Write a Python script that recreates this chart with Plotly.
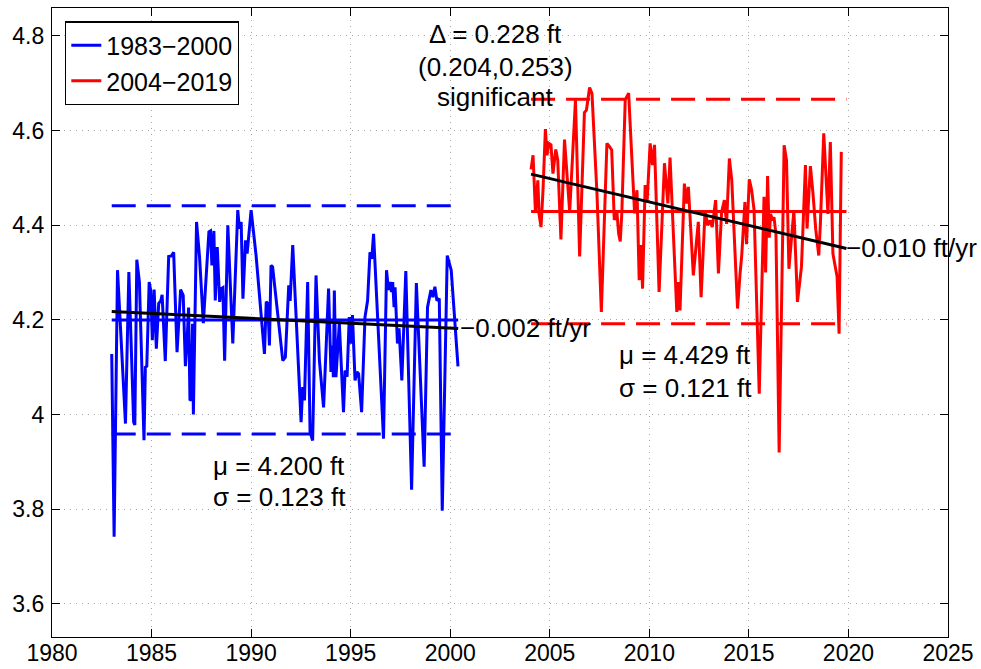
import plotly.graph_objects as go

# ---------------- data ----------------
blue_years = [1983.00, 1983.12, 1983.29, 1983.69, 1983.86, 1984.10, 1984.16, 1984.26, 1984.39, 1984.62,
              1984.69, 1984.76, 1984.88, 1984.96, 1985.04, 1985.13, 1985.24, 1985.36, 1985.46, 1985.53,
              1985.69, 1985.86, 1985.99, 1986.11, 1986.28, 1986.46, 1986.59, 1986.70, 1986.80, 1986.86,
              1986.93, 1986.99, 1987.06, 1987.10, 1987.26, 1987.41, 1987.60, 1987.88, 1987.96, 1988.03,
              1988.13, 1988.20, 1988.30, 1988.42, 1988.50, 1988.58, 1988.67, 1988.83, 1989.08, 1989.33,
              1989.41, 1989.50, 1989.59, 1989.72, 1989.80, 1990.00, 1990.25, 1990.67, 1990.76, 1990.84,
              1990.92, 1991.00, 1991.08, 1991.59, 1991.72, 1991.89, 1991.96, 1992.09, 1992.51, 1992.59,
              1992.68, 1992.84, 1992.96, 1993.09, 1993.26, 1993.43, 1993.64, 1993.89, 1994.01, 1994.08,
              1994.13, 1994.18, 1994.26, 1994.43, 1994.64, 1994.72, 1994.82, 1994.93, 1995.01, 1995.09,
              1995.22, 1995.32, 1995.40, 1995.55, 1995.72, 1995.85, 1995.97, 1996.06, 1996.15, 1996.27,
              1996.65, 1996.80, 1996.90, 1996.98, 1997.05, 1997.11, 1997.18, 1997.23, 1997.35, 1997.43,
              1997.57, 1997.77, 1998.06, 1998.30, 1998.69, 1998.86, 1999.03, 1999.13, 1999.23, 1999.33,
              1999.45, 1999.60, 1999.85, 2000.05, 2000.39]
blue_vals = [4.128, 3.742, 4.305, 3.981, 4.301, 3.984, 3.978, 4.327, 4.280, 3.946,
             4.100, 4.102, 4.280, 4.262, 4.157, 4.264, 4.139, 4.235, 4.240, 4.253,
             4.113, 4.334, 4.335, 4.343, 4.132, 4.264, 4.252, 4.102, 4.171, 4.226,
             4.030, 4.032, 4.192, 4.000, 4.407, 4.333, 4.193, 4.386, 4.388, 4.315,
             4.388, 4.241, 4.354, 4.238, 4.266, 4.268, 4.114, 4.400, 4.150, 4.432,
             4.393, 4.407, 4.245, 4.368, 4.340, 4.432, 4.336, 4.128, 4.238, 4.235,
             4.146, 4.315, 4.312, 4.114, 4.121, 4.273, 4.240, 4.358, 3.984, 4.058,
             4.030, 4.280, 3.963, 3.945, 4.294, 4.114, 4.015, 4.266, 4.090, 4.146,
             4.079, 4.262, 4.079, 4.192, 4.005, 4.093, 4.080, 4.206, 4.150, 4.210,
             4.072, 4.090, 4.086, 4.005, 4.206, 4.241, 4.343, 4.329, 4.382, 4.276,
             3.949, 4.305, 4.263, 4.280, 4.259, 4.280, 4.227, 4.269, 4.150, 4.182,
             4.072, 4.303, 3.841, 4.278, 3.890, 4.227, 4.263, 4.248, 4.270, 4.241,
             4.245, 3.797, 4.336, 4.305, 4.102]

red_years = [2004.06, 2004.16, 2004.28, 2004.40, 2004.46, 2004.56, 2004.66, 2004.78, 2004.86, 2004.95,
             2005.06, 2005.16, 2005.30, 2005.40, 2005.56, 2005.74, 2006.00, 2006.29, 2006.50, 2006.74,
             2006.84, 2007.00, 2007.12, 2007.37, 2007.59, 2007.87, 2008.00, 2008.11, 2008.24, 2008.37,
             2008.46, 2008.54, 2008.62, 2008.79, 2008.96, 2009.26, 2009.38, 2009.49, 2009.57, 2009.66,
             2009.79, 2009.89, 2010.04, 2010.16, 2010.26, 2010.49, 2010.76, 2010.93, 2011.04, 2011.38,
             2011.46, 2011.54, 2011.76, 2011.88, 2011.96, 2012.21, 2012.46, 2012.60, 2012.80, 2012.93,
             2013.05, 2013.16, 2013.33, 2013.47, 2013.63, 2013.77, 2013.88, 2014.02, 2014.14, 2014.43,
             2014.56, 2014.64, 2014.80, 2014.88, 2015.02, 2015.14, 2015.26, 2015.52, 2015.76, 2015.84,
             2015.94, 2016.02, 2016.09, 2016.19, 2016.26, 2016.36, 2016.52, 2016.77, 2016.89, 2017.01,
             2017.26, 2017.44, 2017.64, 2017.84, 2017.92, 2018.09, 2018.22, 2018.36, 2018.51, 2018.59,
             2018.76, 2018.89, 2018.97, 2019.09, 2019.22, 2019.43, 2019.53, 2019.64]
red_vals = [4.518, 4.548, 4.428, 4.495, 4.424, 4.396, 4.474, 4.603, 4.548, 4.573,
            4.570, 4.509, 4.560, 4.538, 4.370, 4.581, 4.428, 4.665, 4.334, 4.638,
            4.643, 4.691, 4.678, 4.467, 4.217, 4.573, 4.566, 4.559, 4.411, 4.428,
            4.382, 4.366, 4.428, 4.665, 4.679, 4.425, 4.474, 4.284, 4.358, 4.266,
            4.485, 4.450, 4.573, 4.527, 4.570, 4.259, 4.531, 4.446, 4.543, 4.217,
            4.280, 4.220, 4.488, 4.446, 4.481, 4.294, 4.407, 4.248, 4.431, 4.400,
            4.410, 4.396, 4.453, 4.298, 4.428, 4.453, 4.403, 4.541, 4.495, 4.224,
            4.300, 4.336, 4.449, 4.360, 4.497, 4.474, 4.432, 4.044, 4.460, 4.300,
            4.504, 4.374, 4.424, 4.410, 4.417, 4.381, 3.920, 4.569, 4.537, 4.308,
            4.432, 4.238, 4.312, 4.527, 4.393, 4.525, 4.467, 4.390, 4.336, 4.403,
            4.594, 4.495, 4.424, 4.576, 4.340, 4.291, 4.171, 4.555]

series_names = ["1983\u22122000", "2004\u22122019"]

blue_span = [1983.0, 2000.4]
red_span = [2004.06, 2019.9]
blue_mean, blue_sigma = 4.200, 0.123
red_mean, red_sigma = 4.429, 0.121
blue_trend = [4.218, 4.182]
red_trend = [4.508, 4.351]
blue_slope_label = "\u22120.002 ft/yr"
red_slope_label = "\u22120.010 ft/yr"
delta_lines = ["\u0394 = 0.228 ft", "(0.204,0.253)", "significant"]

x_ticks = [1980, 1985, 1990, 1995, 2000, 2005, 2010, 2015, 2020, 2025]
y_ticks = [3.6, 3.8, 4.0, 4.2, 4.4, 4.6, 4.8]
y_tick_labels = ["3.6", "3.8", "4", "4.2", "4.4", "4.6", "4.8"]

# ---------------- figure ----------------
BLUE = "#0000ff"
RED = "#ff0000"
FONT = "Liberation Sans, Arial, Helvetica, sans-serif"
DASH = "24px,11px"
LW = 3

fig = go.Figure()

def add_group(years, vals, span, mean, sigma, color, name):
    fig.add_trace(go.Scatter(x=years, y=vals, mode="lines", name=name,
                             line=dict(color=color, width=LW), showlegend=True))
    fig.add_trace(go.Scatter(x=span, y=[mean, mean], mode="lines", showlegend=False,
                             line=dict(color=color, width=LW), hoverinfo="skip"))
    for lim in (mean + 1.96 * sigma, mean - 1.96 * sigma):
        fig.add_trace(go.Scatter(x=span, y=[lim, lim], mode="lines", showlegend=False,
                                 line=dict(color=color, width=LW, dash=DASH), hoverinfo="skip"))

add_group(blue_years, blue_vals, blue_span, blue_mean, blue_sigma, BLUE, series_names[0])
add_group(red_years, red_vals, red_span, red_mean, red_sigma, RED, series_names[1])

for span, trend in ((blue_span, blue_trend), (red_span, red_trend)):
    fig.add_trace(go.Scatter(x=span, y=trend, mode="lines", showlegend=False,
                             line=dict(color="black", width=LW), hoverinfo="skip"))

ann_font = dict(family=FONT, size=26, color="black")
annotations = [
    dict(x=1988.05, y=3.892, text="\u03bc = %.3f ft" % blue_mean, xanchor="left"),
    dict(x=1988.05, y=3.825, text="\u03c3 = %.3f ft" % blue_sigma, xanchor="left"),
    dict(x=2008.45, y=4.125, text="\u03bc = %.3f ft" % red_mean, xanchor="left"),
    dict(x=2008.45, y=4.057, text="\u03c3 = %.3f ft" % red_sigma, xanchor="left"),
    dict(x=blue_span[1] + 0.02, y=blue_trend[1], text=blue_slope_label, xanchor="left"),
    dict(x=red_span[1] - 0.05, y=red_trend[1], text=red_slope_label, xanchor="left"),
    dict(x=2002.25, y=4.805, text=delta_lines[0], xanchor="center"),
    dict(x=2002.25, y=4.735, text=delta_lines[1], xanchor="center"),
    dict(x=2002.25, y=4.670, text=delta_lines[2], xanchor="center"),
]
for a in annotations:
    fig.add_annotation(xref="x", yref="y", showarrow=False, yanchor="middle",
                       font=ann_font, borderpad=0, **a)

axis_common = dict(showline=True, linecolor="black", linewidth=1.3, mirror="allticks",
                   ticks="inside", ticklen=8, tickwidth=1, tickcolor="black",
                   showgrid=True, gridcolor="#a8a8a8", griddash="1px,5px", gridwidth=1,
                   zeroline=False, automargin=False,
                   tickfont=dict(family=FONT, size=23, color="black"))

fig.update_layout(
    width=981, height=669,
    margin=dict(l=52, r=33, t=8, b=32, autoexpand=False),
    paper_bgcolor="white", plot_bgcolor="white",
    xaxis=dict(range=[1980, 2025], tickvals=x_ticks, ticklabelstandoff=-5, **axis_common),
    yaxis=dict(range=[3.53, 4.859], tickvals=y_ticks, ticktext=y_tick_labels, ticklabelstandoff=2,
               **axis_common),
    showlegend=True,
    legend=dict(x=0.0145, y=0.979, xanchor="left", yanchor="top",
                bgcolor="white", bordercolor="black", borderwidth=1.3,
                font=dict(family=FONT, size=25, color="black"), tracegroupgap=0),
)

fig.write_html("out.html", config={"displayModeBar": False},
               post_script="document.body.style.margin='0px';")
